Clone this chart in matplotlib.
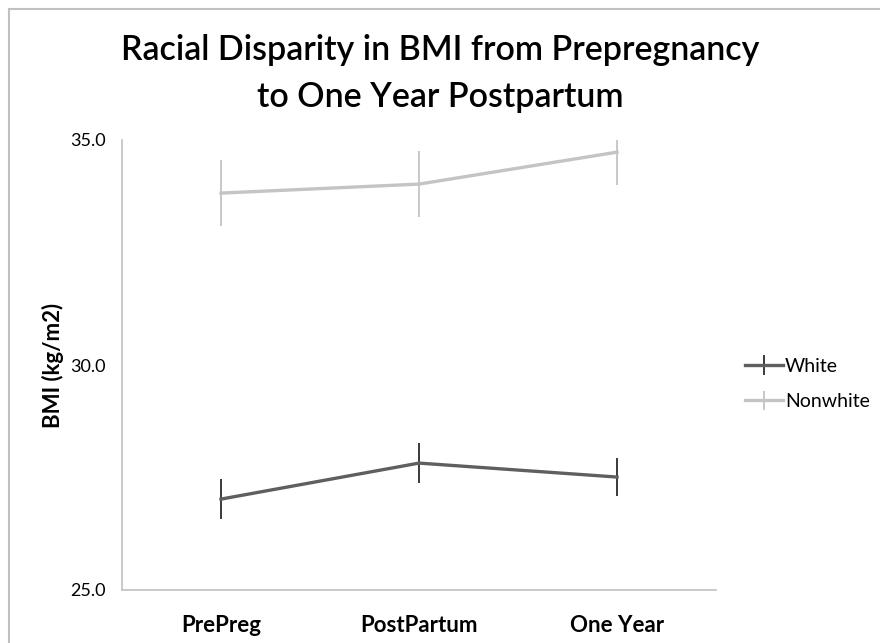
import matplotlib
matplotlib.use("Agg")
import matplotlib.pyplot as plt
from matplotlib.lines import Line2D

plt.rcParams["font.family"] = ["Lato", "DejaVu Sans"]

categories = ["PrePreg", "PostPartum", "One Year"]
white_bmi = [27.02, 27.82, 27.51]
white_err = [0.44, 0.44, 0.43]
nonwhite_bmi = [33.82, 34.02, 34.73]
nonwhite_err = [0.73, 0.74, 0.73]
y_ticks = [25.0, 30.0, 35.0]

W, H = 880, 643
fig = plt.figure(figsize=(W / 100, H / 100), dpi=100)
ax = fig.add_axes([122 / W, 1 - 590 / H, 594 / W, 450 / H])

x = [0.5, 1.5, 2.5]
ax.errorbar(x, white_bmi, yerr=white_err, color="#5f5f5f", lw=2.4,
            ecolor="#3a3a3a", elinewidth=1.4, capsize=0, label="White")
ax.errorbar(x, nonwhite_bmi, yerr=nonwhite_err, color="#c4c4c4", lw=2.4,
            ecolor="#c8c8c8", elinewidth=1.4, capsize=0, label="Nonwhite")

ax.set_xlim(0, 3)
ax.set_ylim(25, 35)
ax.set_xticks(x)
ax.set_xticklabels(categories, fontsize=16, fontweight="bold")
ax.set_yticks(y_ticks)
ax.set_yticklabels([f"{v:.1f}" for v in y_ticks], fontsize=13)
ax.tick_params(length=0)
ax.tick_params(axis="x", pad=18)
ax.tick_params(axis="y", pad=12)
for s in ("top", "right"):
    ax.spines[s].set_visible(False)
for s in ("left", "bottom"):
    ax.spines[s].set_color("#c0c0c0")
    ax.spines[s].set_linewidth(1.2)

# y label placed directly so it sits where the reference has it
fig.text(53 / W, 1 - 365 / H, "BMI (kg/m2)", rotation=90, ha="center",
         va="center", fontsize=16, fontweight="bold")

ax.legend(loc="center left", bbox_to_anchor=(745 / W, 1 - 384 / H),
          bbox_transform=fig.transFigure, frameon=False, borderpad=0,
          borderaxespad=0, fontsize=14, handlelength=1.95,
          handletextpad=0.1, labelspacing=0.95)

fig.text(0.5, 1 - 50 / H, "Racial Disparity in BMI from Prepregnancy",
         ha="center", va="center", fontsize=24.5, fontweight="semibold")
fig.text(0.5, 1 - 97 / H, "to One Year Postpartum",
         ha="center", va="center", fontsize=24.5, fontweight="semibold")

# chart frame (cropped on right and bottom)
fig.add_artist(Line2D([9 / W, 9 / W], [0, 1 - 9 / H], color="#c0c0c0", lw=1.5))
fig.add_artist(Line2D([9 / W, 1], [1 - 9 / H, 1 - 9 / H], color="#c0c0c0", lw=1.5))

fig.savefig("out.png", dpi=100)
